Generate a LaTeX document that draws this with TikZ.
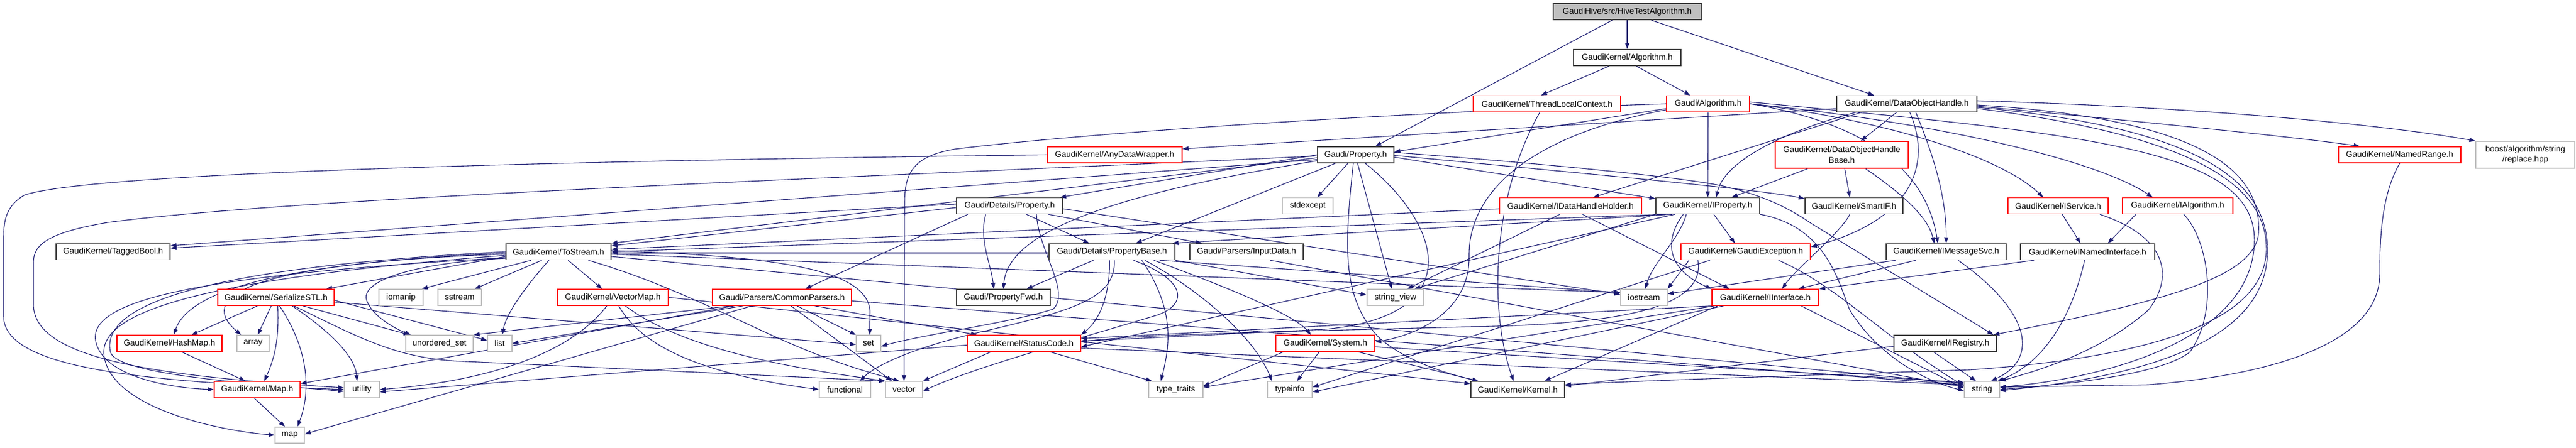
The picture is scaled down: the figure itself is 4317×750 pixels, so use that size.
\documentclass[tikz,border=0pt]{standalone}
\usepackage{fontspec}
\setmainfont{Liberation Sans}
\usetikzlibrary{arrows.meta}
\definecolor{edgec}{HTML}{191970}
\definecolor{bkc}{HTML}{404040}
\definecolor{grc}{HTML}{BFBFBF}
\definecolor{rdc}{HTML}{FF0000}
\pgfdeclarelayer{bg}
\pgfsetlayers{bg,main}
\begin{document}
\begin{tikzpicture}[x=1pt,y=-1pt,
  box/.style={draw,fill=white,line width=1.5pt,inner sep=0pt,minimum height=27pt,font=\fontsize{14}{17.5}\selectfont,align=center},
  bk/.style={box,draw=bkc},
  rd/.style={box,draw=rdc},
  gr/.style={box,draw=grc},
  e/.style={draw=edgec,line width=1.1pt,-{Triangle[length=10pt,width=7pt]}},
]
\useasboundingbox (0,0) rectangle (4317,750);
% ---------------- nodes ----------------
\node[bk,fill=grc,minimum width=248pt] (title) at (2727,19.5) {GaudiHive/src/HiveTestAlgorithm.h};
\node[bk,minimum width=180pt] (alg) at (2727,96.5) {GaudiKernel/Algorithm.h};
\node[rd,minimum width=247pt] (tlc) at (2592.5,174) {GaudiKernel/ThreadLocalContext.h};
\node[rd,minimum width=139pt] (galg) at (2862.5,174) {Gaudi/Algorithm.h};
\node[bk,minimum width=235pt] (doh) at (3195.5,174) {GaudiKernel/DataObjectHandle.h};
\node[bk,minimum width=128pt] (prop) at (2272,259.5) {Gaudi/Property.h};
\node[rd,minimum width=226pt] (adw) at (1868,259.5) {GaudiKernel/AnyDataWrapper.h};
\node[rd,minimum width=223pt,minimum height=45pt] (dohb) at (3086.5,259.5) {GaudiKernel/DataObjectHandle\\Base.h};
\node[rd,minimum width=205pt] (nrange) at (4021.5,259.5) {GaudiKernel/NamedRange.h};
\node[gr,minimum width=166pt,minimum height=45pt] (boost) at (4232,259.5) {boost/algorithm/string\\/replace.hpp};
\node[bk,minimum width=178pt] (detprop) at (1692,345) {Gaudi/Details/Property.h};
\node[gr,minimum width=85pt] (stdexc) at (2191.5,345) {stdexcept};
\node[rd,minimum width=238pt] (idhh) at (2632,345) {GaudiKernel/IDataHandleHolder.h};
\node[bk,minimum width=174pt] (iprop) at (2862,345) {GaudiKernel/IProperty.h};
\node[bk,minimum width=164pt] (smartif) at (3107,345) {GaudiKernel/SmartIF.h};
\node[rd,minimum width=168pt] (iserv) at (3449,345) {GaudiKernel/IService.h};
\node[rd,minimum width=185pt] (ialg) at (3649.5,345) {GaudiKernel/IAlgorithm.h};
\node[bk,minimum width=191pt] (tagged) at (189.5,422) {GaudiKernel/TaggedBool.h};
\node[bk,minimum width=176pt] (tostream) at (936,422) {GaudiKernel/ToStream.h};
\node[bk,minimum width=211pt] (propbase) at (1863.5,422) {Gaudi/Details/PropertyBase.h};
\node[bk,minimum width=190pt] (inputdata) at (2089,422) {Gaudi/Parsers/InputData.h};
\node[rd,minimum width=217pt] (gexc) at (2925.5,422) {GaudiKernel/GaudiException.h};
\node[bk,minimum width=201pt] (imsg) at (3261.5,422) {GaudiKernel/IMessageSvc.h};
\node[bk,minimum width=225pt] (inamed) at (3498.5,422) {GaudiKernel/INamedInterface.h};
\node[rd,minimum width=195pt] (sstl) at (462.5,498.5) {GaudiKernel/SerializeSTL.h};
\node[gr,minimum width=74pt] (iomanip) at (672,498.5) {iomanip};
\node[gr,minimum width=73pt] (sstream) at (770.5,498.5) {sstream};
\node[rd,minimum width=186pt] (vmap) at (1027,498.5) {GaudiKernel/VectorMap.h};
\node[rd,minimum width=233pt] (cparsers) at (1310.5,498.5) {Gaudi/Parsers/CommonParsers.h};
\node[bk,minimum width=157pt] (propfwd) at (1681.5,498.5) {Gaudi/PropertyFwd.h};
\node[gr,minimum width=95pt] (strview) at (2338.5,498.5) {string\_view};
\node[gr,minimum width=78pt] (iostream) at (2755,498.5) {iostream};
\node[rd,minimum width=179pt] (iinter) at (2958.5,498.5) {GaudiKernel/IInterface.h};
\node[rd,minimum width=176pt] (hashmap) at (284,575.5) {GaudiKernel/HashMap.h};
\node[gr,minimum width=54pt] (array) at (424,575.5) {array};
\node[gr,minimum width=113pt] (uset) at (736.5,575.5) {unordered\_set};
\node[gr,minimum width=41pt] (list) at (837.5,575.5) {list};
\node[gr,minimum width=41pt] (set) at (1455.5,575.5) {set};
\node[rd,minimum width=190pt] (statuscode) at (1716,575.5) {GaudiKernel/StatusCode.h};
\node[rd,minimum width=166pt] (system) at (2221,575.5) {GaudiKernel/System.h};
\node[bk,minimum width=172pt] (iregistry) at (3260,575.5) {GaudiKernel/IRegistry.h};
\node[rd,minimum width=144pt] (mapH) at (431,653) {GaudiKernel/Map.h};
\node[gr,minimum width=59pt] (utility) at (606.5,653) {utility};
\node[gr,minimum width=86pt] (functional) at (1416,653) {functional};
\node[gr,minimum width=62pt] (vector) at (1515,653) {vector};
\node[gr,minimum width=91pt] (typetraits) at (1970.5,653) {type\_traits};
\node[gr,minimum width=75pt] (typeinfo) at (2161.5,653) {typeinfo};
\node[bk,minimum width=157pt] (kernel) at (2543.5,653) {GaudiKernel/Kernel.h};
\node[gr,minimum width=59pt] (string) at (3321.5,653) {string};
\node[gr,minimum width=49pt] (map) at (485.5,729.5) {map};
% ---------------- edges ----------------
\begin{pgfonlayer}{bg}
% title / Algorithm
\draw[e] ([xshift=-25pt]title.south) -- ([xshift=33pt]prop.north);
\draw[e] (title) -- (alg);
\draw[e] ([xshift=40pt]title.south) -- ([xshift=-55pt]doh.north);
\draw[e] ([xshift=-30pt]alg.south) -- ([xshift=-10pt]tlc.north);
\draw[e] ([xshift=15pt]alg.south) -- ([xshift=-30pt]galg.north);
\draw[e] ([xshift=-12pt]tlc.south) .. controls (2500,330) and (2495,520) .. ([xshift=-7pt]kernel.north);
% Gaudi/Algorithm.h
\draw[e] ([yshift=-8pt]galg.west) -- ([yshift=5pt]prop.east);
\draw[e] (galg.west) .. controls (2300,190) and (1800,225) .. (1600,250) .. controls (1530,262) and (1516,290) .. (1516,340) -- (vector.north);
\draw[e] ([yshift=-10pt]galg.west) .. controls (2550,230) and (2460,330) .. (2462,430) .. controls (2463,520) and (2380,560) .. ([yshift=2pt]system.east);
\draw[e] (galg.south) -- (iprop.north);
\draw[e] (galg.east) .. controls (3150,210) and (3230,300) .. ([xshift=-14pt]imsg.north);
\draw[e] (galg.east) .. controls (3150,200) and (3350,260) .. ([xshift=-25pt]iserv.north);
\draw[e] (galg.east) .. controls (3200,200) and (3500,260) .. ([xshift=-42pt]ialg.north);
\draw[e] ([yshift=3pt]galg.east) .. controls (3500,225) and (3775,250) .. (3778,400) .. controls (3780,560) and (3550,632) .. ([yshift=4pt]string.east);
% DataObjectHandle.h
\draw[e] ([yshift=-8pt]doh.west) -- ([yshift=10pt]adw.east);
\draw[e] ([xshift=-76pt]doh.south) -- ([xshift=38pt]idhh.north);
\draw[e] ([xshift=-85pt]doh.south) .. controls (2990,220) and (2890,270) .. ([xshift=14pt]iprop.north);
\draw[e] ([xshift=-17pt]doh.south) -- ([xshift=32pt]dohb.north);
\draw[e] ([xshift=5pt]doh.south) .. controls (3240,280) and (3200,370) .. ([yshift=8pt]gexc.east);
\draw[e] ([xshift=15pt]doh.south) .. controls (3240,260) and (3262,330) .. (imsg.north);
\draw[e] ([yshift=-4pt]doh.east) .. controls (3600,205) and (3850,230) .. ([xshift=-67pt]nrange.north);
\draw[e] ([yshift=5pt]doh.east) .. controls (3700,180) and (4000,210) .. (boost.north west);
\draw[e] ([yshift=-2pt]doh.east) .. controls (3700,200) and (3790,290) .. (3785,390) .. controls (3780,470) and (3600,510) .. ([xshift=-6pt]iregistry.north east);
\draw[e] ([yshift=-8pt]doh.east) .. controls (3700,230) and (3800,320) .. (3798,420) .. controls (3795,540) and (3600,600) .. (3300,620) .. controls (3000,630) and (2700,640) .. ([yshift=8pt]kernel.east);
\draw[e] ([yshift=-6pt]doh.east) .. controls (3700,215) and (3800,310) .. (3800,420) .. controls (3800,570) and (3600,630) .. ([yshift=-2pt]string.east);
% right side
\draw[e] (nrange.south) .. controls (3995,320) and (3988,380) .. (3988,460) .. controls (3988,560) and (3850,625) .. (3600,645) -- ([yshift=4pt]string.east);
\draw[e] ([xshift=10pt]ialg.south) .. controls (3700,400) and (3720,520) .. (3670,590) .. controls (3620,630) and (3450,645) .. (string.east);
\draw[e] ([xshift=-70pt]ialg.south) -- ([xshift=34pt]inamed.north);
\draw[e] ([xshift=7pt]iserv.south) -- ([xshift=-12pt]inamed.north);
\draw[e] ([xshift=70pt]iserv.south) .. controls (3640,400) and (3640,470) .. (3600,520) .. controls (3520,590) and (3420,620) .. (string.north east);
% far-left loops
\draw[e] (adw.west) .. controls (900,270) and (150,290) .. (41,327) .. controls (10,345) and (6,370) .. (6,400) -- (6,530) .. controls (6,620) and (250,640) .. (utility.west);
\draw[e] ([yshift=-2pt]prop.west) .. controls (1500,295) and (500,330) .. (180,373) .. controls (80,390) and (56,410) .. (56,440) -- (56,510) .. controls (56,600) and (250,630) .. ([yshift=3pt]utility.west);
% Gaudi/Property.h
\draw[e] (prop.west) -- ([xshift=-5pt]detprop.north east);
\draw[e] ([yshift=-8pt]prop.west) -- ([yshift=10pt]tagged.east);
\draw[e] ([yshift=-5pt]prop.west) -- (tostream.north east);
\draw[e] ([xshift=-34pt]prop.south) -- ([xshift=40pt]propbase.north);
\draw[e] ([yshift=-10pt]prop.west) .. controls (1900,320) and (1690,380) .. (propfwd.north);
\draw[e] ([xshift=-13pt]prop.south) -- ([xshift=16pt]stdexc.north);
\draw[e] ([xshift=-4pt]prop.south) .. controls (2252,420) and (2250,500) .. (2310,565) .. controls (2360,610) and (2440,630) .. ([xshift=-66pt]kernel.north);
\draw[e] ([xshift=3pt]prop.south) -- ([xshift=-6pt]strview.north);
\draw[e] ([xshift=16pt]prop.south) .. controls (2420,380) and (2460,530) .. (2220,552) .. controls (2050,560) and (1900,568) .. ([yshift=4pt]statuscode.east);
\draw[e] ([yshift=-4pt]prop.east) -- ([yshift=12pt]iprop.west);
\draw[e] ([yshift=-1pt]prop.east) .. controls (2700,295) and (2950,318) .. ([yshift=12pt]smartif.west);
\draw[e] ([yshift=4pt]prop.east) .. controls (2600,275) and (2850,300) .. (2900,315) .. controls (2960,330) and (3000,350) .. (3036,375) -- ([xshift=-6pt]iregistry.north east);
% Gaudi/Details/Property.h
\draw[e] ([yshift=3pt]detprop.west) -- ([yshift=6pt]tagged.east);
\draw[e] ([yshift=-3pt]detprop.west) -- ([yshift=10pt]tostream.east);
\draw[e] ([xshift=-70pt]detprop.south) -- ([xshift=39pt]cparsers.north);
\draw[e] ([xshift=-40pt]detprop.south) .. controls (1640,400) and (1660,440) .. ([xshift=-16pt]propfwd.north);
\draw[e] ([xshift=28pt]detprop.south) -- ([xshift=-38pt]propbase.north);
\draw[e] ([xshift=65pt]detprop.south) -- ([xshift=-75pt]inputdata.north);
\draw[e] ([yshift=-5pt]detprop.east) -- ([yshift=5pt]iostream.west);
\draw[e] ([xshift=45pt]detprop.south) .. controls (1740,420) and (1795,490) .. (1765,518) .. controls (1700,540) and (1550,560) .. ([yshift=-5pt]set.east);
% Gaudi/Details/PropertyBase.h
\draw[e] ([yshift=-2pt]propbase.west) -- ([yshift=-2pt]tostream.east);
\draw[e] ([xshift=-31pt]propbase.south) -- ([xshift=39pt]propfwd.north);
\draw[e] ([xshift=-4pt]propbase.south) .. controls (1860,480) and (1850,530) .. (statuscode.north east);
\draw[e] ([xshift=4pt]propbase.south) .. controls (1870,500) and (1800,520) .. (1650,555) .. controls (1540,580) and (1470,610) .. ([xshift=25pt]functional.north);
\draw[e] ([xshift=36pt]propbase.south) .. controls (1990,470) and (1990,510) .. (1940,528) .. controls (1800,570) and (1620,620) .. ([yshift=-3pt]vector.east);
\draw[e] ([xshift=50pt]propbase.south) .. controls (1970,520) and (1960,580) .. ([xshift=-25pt]typetraits.north);
\draw[e] ([xshift=55pt]propbase.south) .. controls (2000,480) and (2100,560) .. ([xshift=-30pt]typeinfo.north);
\draw[e] ([xshift=70pt]propbase.south) .. controls (2080,490) and (2170,530) .. ([xshift=-24pt]system.north);
\draw[e] (propbase.south east) -- ([yshift=4pt]strview.west);
\draw[e] ([xshift=80pt]propbase.south) -- ([yshift=8pt]iostream.west);
% InputData
\draw[e] ([xshift=40pt]inputdata.south) -- ([yshift=4pt]string.west);
% CommonParsers
\draw[e] ([xshift=-85pt]cparsers.south) -- (uset.north east);
\draw[e] ([xshift=-65pt]cparsers.south) -- (list.east);
\draw[e] ([xshift=-50pt]cparsers.south) -- ([yshift=2pt]map.east);
\draw[e] ([xshift=-80pt]cparsers.south) -- ([yshift=10pt]mapH.east);
\draw[e] ([xshift=25pt]cparsers.south) -- (set.north west);
\draw[e] ([xshift=55pt]cparsers.south) -- ([xshift=-79pt]statuscode.north);
\draw[e] ([xshift=15pt]cparsers.south) -- ([xshift=-20pt]vector.north);
\draw[e] ([yshift=-6pt]cparsers.east) -- ([yshift=8pt]string.west);
% VectorMap
\draw[e] ([xshift=-10pt]vmap.south) .. controls (950,600) and (800,640) .. (utility.east);
\draw[e] ([xshift=10pt]vmap.south) .. controls (1080,590) and (1200,630) .. (functional.west);
\draw[e] ([xshift=21pt]vmap.south) .. controls (1150,590) and (1350,620) .. (vector.north west);
\draw[e] (vmap.east) -- ([yshift=10pt]kernel.west);
% SerializeSTL
\draw[e] ([xshift=-31pt]sstl.south) -- ([xshift=37pt]hashmap.north);
\draw[e] ([xshift=-8pt]sstl.south) -- ([xshift=8pt]array.north);
\draw[e] ([xshift=3pt]sstl.south) .. controls (468,570) and (460,600) .. ([xshift=12pt]mapH.north);
\draw[e] ([xshift=6pt]sstl.south) .. controls (520,590) and (520,660) .. ([xshift=13pt]map.north);
\draw[e] ([xshift=27pt]sstl.south) .. controls (560,560) and (595,600) .. ([xshift=-8pt]utility.north);
\draw[e] ([xshift=30pt]sstl.south) .. controls (600,565) and (660,598) .. (760,605) -- (vector.north west);
\draw[e] ([xshift=45pt]sstl.south) -- ([xshift=-50pt]uset.north);
\draw[e] ([yshift=-5pt]sstl.east) -- ([yshift=5pt]list.west);
\draw[e] ([yshift=-8pt]sstl.east) -- ([yshift=-2pt]set.west);
% ToStream
\draw[e] ([xshift=-46pt]tostream.south) -- ([xshift=-3pt]iomanip.north east);
\draw[e] ([xshift=-28pt]tostream.south) -- ([xshift=25pt]sstream.north);
\draw[e] ([xshift=-16pt]tostream.south) .. controls (890,470) and (850,520) .. ([xshift=4pt]list.north);
\draw[e] ([xshift=16pt]tostream.south) -- ([xshift=-18pt]vmap.north);
\draw[e] ([yshift=-8pt]tostream.west) -- ([xshift=84pt]sstl.north);
\draw[e] ([yshift=-2pt]tostream.west) .. controls (500,440) and (320,480) .. ([xshift=7pt]hashmap.north);
\draw[e] ([yshift=-4pt]tostream.west) .. controls (450,440) and (320,490) .. ([xshift=-20pt]array.north);
\draw[e] ([yshift=0pt]tostream.west) .. controls (300,450) and (170,520) .. (185,590) .. controls (195,630) and (450,645) .. ([yshift=-3pt]utility.west);
\draw[e] ([yshift=-10pt]tostream.west) .. controls (350,460) and (150,500) .. (160,570) .. controls (170,630) and (280,650) .. (mapH.west);
\draw[e] ([yshift=-6pt]tostream.west) .. controls (300,470) and (160,530) .. (175,600) .. controls (190,680) and (350,720) .. (map.west);
\draw[e] ([yshift=-11pt]tostream.west) .. controls (700,440) and (600,470) .. (615,505) .. controls (625,530) and (660,550) .. ([xshift=-48pt]uset.north);
\draw[e] ([yshift=2pt]tostream.east) .. controls (1300,430) and (1450,450) .. (1458,520) -- ([xshift=2pt]set.north);
\draw[e] ([yshift=-4pt]tostream.east) -- ([yshift=8pt]iostream.west);
\draw[e] ([yshift=-8pt]tostream.east) -- ([yshift=10pt]string.west);
\draw[e] ([xshift=50pt]tostream.south) .. controls (1100,470) and (1180,510) .. (1300,565) .. controls (1400,610) and (1460,625) .. ([xshift=-8pt]vector.north);
% IDataHandleHolder
\draw[e] ([yshift=-5pt]idhh.west) -- ([yshift=4pt]tostream.east);
\draw[e] ([xshift=20pt]idhh.south) -- ([xshift=-60pt]iinter.north);
\draw[e] ([xshift=-18pt]idhh.south) -- ([xshift=20pt]strview.north);
% IProperty
\draw[e] ([xshift=-60pt]iprop.south) -- ([xshift=-5pt]propbase.north east);
\draw[e] ([xshift=-70pt]iprop.south) -- ([yshift=0pt]tostream.east);
\draw[e] (iprop.south west) -- ([xshift=32pt]strview.north);
\draw[e] ([xshift=-36pt]iprop.south) .. controls (2815,400) and (2770,440) .. ([xshift=2pt]iostream.north);
\draw[e] ([xshift=-41pt]iprop.south) .. controls (2790,400) and (2790,450) .. (iinter.north west);
\draw[e] ([xshift=10pt]iprop.south) -- ([xshift=-18pt]gexc.north);
\draw[e] ([xshift=-55pt]iprop.south) -- ([yshift=-6pt]statuscode.east);
\draw[e] (iprop.south east) .. controls (3060,380) and (3080,470) .. (3100,520) .. controls (3150,600) and (3230,640) .. ([yshift=-2pt]string.west);
% SmartIF / DataObjectHandleBase
\draw[e] ([xshift=-7pt]smartif.south) .. controls (3085,390) and (3010,450) .. ([xshift=28pt]iinter.north);
\draw[e] ([xshift=-57pt]dohb.south) -- ([xshift=40pt]iprop.north);
\draw[e] ([xshift=5pt]dohb.south) -- ([xshift=-7pt]smartif.north);
\draw[e] ([xshift=40pt]dohb.south) .. controls (3180,320) and (3230,360) .. ([xshift=-20pt]imsg.north);
% GaudiException
\draw[e] ([xshift=-95pt]gexc.south) -- (iostream.north east);
\draw[e] ([xshift=-80pt]gexc.south) .. controls (2860,520) and (2700,545) .. (2450,548) .. controls (2200,555) and (1900,560) .. ([yshift=2pt]statuscode.east);
\draw[e] ([xshift=-60pt]gexc.south) -- ([yshift=4pt]typeinfo.east);
\draw[e] ([xshift=55pt]gexc.south) .. controls (3080,480) and (3150,560) .. ([yshift=6pt]string.west);
% IMessageSvc / INamedInterface / IRegistry
\draw[e] ([xshift=-51pt]imsg.south) -- ([xshift=55pt]iinter.north);
\draw[e] ([xshift=20pt]imsg.south) .. controls (3400,520) and (3420,600) .. ([xshift=15pt]string.north);
\draw[e] ([xshift=-85pt]imsg.south) -- ([yshift=6pt]iostream.east);
\draw[e] ([xshift=-90pt]inamed.south) -- (iinter.north east);
\draw[e] ([xshift=-5pt]inamed.south) .. controls (3470,540) and (3420,610) .. ([xshift=-4pt]string.north east);
\draw[e] ([yshift=-5pt]iregistry.west) -- ([yshift=6pt]kernel.east);
\draw[e] ([xshift=-20pt]iregistry.south) -- ([xshift=-10pt]string.north);
% System / StatusCode
\draw[e] ([xshift=54pt]system.south) -- ([xshift=-66pt]kernel.north);
\draw[e] ([xshift=-10pt]system.south) -- ([xshift=12pt]typeinfo.north);
\draw[e] ([yshift=-6pt]system.east) -- ([yshift=12pt]string.west);
\draw[e] ([xshift=-70pt]system.south) -- ([yshift=6pt]typetraits.east);
\draw[e] ([xshift=-55pt]statuscode.south) -- (vector.north east);
\draw[e] ([xshift=43pt]statuscode.south) -- ([xshift=-40pt]typetraits.north);
\draw[e] ([yshift=-3pt]statuscode.west) -- ([yshift=-4pt]utility.east);
\draw[e] ([yshift=-8pt]statuscode.east) -- ([yshift=8pt]string.west);
% IInterface
\draw[e] ([xshift=-80pt]iinter.south) -- ([xshift=45pt]kernel.north);
\draw[e] (iinter.south west) -- ([yshift=8pt]statuscode.east);
\draw[e] ([xshift=-85pt]iinter.south) -- ([yshift=4pt]typetraits.east);
\draw[e] ([xshift=-70pt]iinter.south) -- ([yshift=-4pt]typeinfo.east);
\draw[e] ([xshift=60pt]iinter.south) -- ([yshift=2pt]string.west);
% Map / HashMap
\draw[e] ([xshift=20pt]hashmap.south) -- ([xshift=-20pt]mapH.north);
\draw[e] ([xshift=-5pt]mapH.south) -- ([xshift=-8pt]map.north);
\end{pgfonlayer}
\end{tikzpicture}
\end{document}
